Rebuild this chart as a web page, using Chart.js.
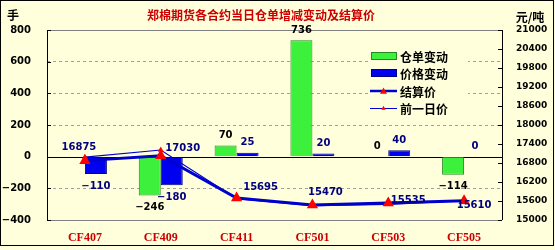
<!DOCTYPE html>
<html>
<head>
<meta charset="utf-8">
<script src="https://cdn.jsdelivr.net/npm/chart.js@4/dist/chart.umd.min.js"></script>
<style>
  html, body { margin: 0; padding: 0; background: #fff; }
  #wrap { width: 555px; height: 250px; position: relative; }
</style>
</head>
<body>
<div id="wrap"><canvas id="cwChart" width="555" height="250"></canvas></div>
<script>
// 合约
const contracts = ['CF407', 'CF409', 'CF411', 'CF501', 'CF503', 'CF505'];
// 仓单变动 (手)
const receiptChange = [null, -246, 70, 736, 0, -114];
// 价格变动
const priceChange = [-110, -180, 25, 20, 40, 0];
// 结算价 (元/吨)
const settlePrice = [16875, 17030, 15695, 15470, 15535, 15610];
// 前一日价
const prevPrice = [16985, 17210, 15670, 15450, 15495, 15610];
// 结算价标签的偏移
const settleLabelNudge = [[-6, -13], [22, -7], [24, -11], [13, -13], [20, -3], [10, 5]];

const BG = '#FFFFDC';
const numFont = 'bold 10px "DejaVu Sans"';
const cjkFont = 'bold 12px "Noto Sans CJK SC"';

const decorPlugin = {
    id: 'decor',
    beforeDraw(chart) {
        const ctx = chart.ctx;
        ctx.save();
        ctx.fillStyle = BG;
        ctx.fillRect(0, 0, chart.width, chart.height);
        ctx.strokeStyle = '#000';
        ctx.lineWidth = 1;
        ctx.strokeRect(0.5, 0.5, chart.width - 2, chart.height - 5);
        ctx.restore();
    },
    beforeDatasetsDraw(chart) {
        const ctx = chart.ctx;
        const a = chart.chartArea;
        const y = chart.scales.y;
        const y1 = chart.scales.y1;
        ctx.save();
        ctx.lineWidth = 1;
        // top / bottom frame
        ctx.strokeStyle = '#808080';
        ctx.beginPath();
        ctx.moveTo(a.left, Math.round(a.top) + 0.5);
        ctx.lineTo(a.right, Math.round(a.top) + 0.5);
        ctx.moveTo(a.left, Math.round(a.bottom) + 0.5);
        ctx.lineTo(a.right, Math.round(a.bottom) + 0.5);
        ctx.stroke();
        // axes
        ctx.strokeStyle = '#000';
        ctx.beginPath();
        ctx.moveTo(Math.round(a.left) + 0.5, a.top);
        ctx.lineTo(Math.round(a.left) + 0.5, a.bottom);
        ctx.moveTo(Math.round(a.right) + 0.5, a.top);
        ctx.lineTo(Math.round(a.right) + 0.5, a.bottom);
        const z = Math.round(y.getPixelForValue(0)) + 0.5;
        ctx.moveTo(a.left, z);
        ctx.lineTo(a.right, z);
        // tick marks (inside)
        y1.ticks.forEach(t => {
            const py = Math.round(y1.getPixelForValue(t.value)) + 0.5;
            ctx.moveTo(a.right - 4, py);
            ctx.lineTo(a.right, py);
        });
        y.ticks.forEach(t => {
            const py = Math.round(y.getPixelForValue(t.value)) + 0.5;
            ctx.moveTo(a.left, py);
            ctx.lineTo(a.left + 4, py);
        });
        ctx.stroke();
        ctx.restore();
    },
    afterDraw(chart) {
        const ctx = chart.ctx;
        ctx.save();
        ctx.textBaseline = 'middle';
        ctx.textAlign = 'center';

        // 标题
        ctx.font = cjkFont;
        ctx.fillStyle = '#CC0000';
        ctx.fillText('郑棉期货各合约当日仓单增减变动及结算价', 261, 15);
        ctx.fillStyle = '#000';
        ctx.fillText('手', 13, 15);
        ctx.fillText('元/吨', 530, 17);

        // 柱子标签
        ctx.font = numFont;
        [0, 1].forEach(di => {
            const meta = chart.getDatasetMeta(di);
            const vals = chart.data.datasets[di].data;
            ctx.fillStyle = di === 0 ? '#000' : '#000080';
            meta.data.forEach((el, i) => {
                const v = vals[i];
                if (v === null || v === undefined) return;
                const ty = v >= 0 ? el.y - 10 : el.y + 12;
                ctx.fillText(String(v).replace('-', '\u2212'), el.x, ty);
            });
        });

        // 结算价标签
        const sMeta = chart.getDatasetMeta(2);
        ctx.fillStyle = '#000080';
        sMeta.data.forEach((pt, i) => {
            const n = settleLabelNudge[i];
            ctx.fillText(String(settlePrice[i]), pt.x + n[0], pt.y + n[1]);
        });

        // 图例
        const lx = 368, ly = 44;
        ctx.fillStyle = BG;
        ctx.fillRect(lx, ly, 100, 72);
        const rows = [56, 73, 91, 108];
        ctx.textAlign = 'left';
        ctx.font = cjkFont;
        // 仓单变动
        ctx.fillStyle = '#3CF03C';
        ctx.strokeStyle = '#1E8C1E';
        ctx.fillRect(371, rows[0] - 3, 25, 6);
        ctx.strokeRect(371.5, rows[0] - 3.5, 25, 7);
        // 价格变动
        ctx.fillStyle = '#0000F0';
        ctx.strokeStyle = '#000080';
        ctx.fillRect(371, rows[1] - 3, 25, 6);
        ctx.strokeRect(371.5, rows[1] - 3.5, 25, 7);
        // 结算价
        ctx.strokeStyle = '#0000CC';
        ctx.lineWidth = 2.5;
        ctx.beginPath();
        ctx.moveTo(370, rows[2]);
        ctx.lineTo(397, rows[2]);
        ctx.stroke();
        drawTri(ctx, 383.5, rows[2], 3.5);
        // 前一日价
        ctx.lineWidth = 1;
        ctx.beginPath();
        ctx.moveTo(370, rows[3] + 0.5);
        ctx.lineTo(397, rows[3] + 0.5);
        ctx.stroke();
        drawTri(ctx, 383.5, rows[3], 2.2);

        ctx.fillStyle = '#000';
        ['仓单变动', '价格变动', '结算价', '前一日价'].forEach((t, i) => {
            ctx.fillText(t, 400, rows[i] + 1);
        });
        ctx.restore();
    }
};

function drawTri(ctx, x, y, r) {
    ctx.save();
    ctx.fillStyle = '#FF0000';
    ctx.beginPath();
    ctx.moveTo(x, y - r);
    ctx.lineTo(x + r, y + r * 0.8);
    ctx.lineTo(x - r, y + r * 0.8);
    ctx.closePath();
    ctx.fill();
    ctx.restore();
}

const chart = new Chart(document.getElementById('cwChart'), {
    type: 'bar',
    data: {
        labels: contracts,
        datasets: [
            {
                label: '仓单变动',
                data: receiptChange,
                yAxisID: 'y',
                backgroundColor: '#3CF03C',
                borderColor: '#1E8C1E',
                borderWidth: 1,
                categoryPercentage: 0.58,
                barPercentage: 1,
                order: 2
            },
            {
                label: '价格变动',
                data: priceChange,
                yAxisID: 'y',
                backgroundColor: '#0000F0',
                borderColor: '#000080',
                borderWidth: 1,
                categoryPercentage: 0.58,
                barPercentage: 1,
                order: 2
            },
            {
                type: 'line',
                label: '结算价',
                data: settlePrice,
                yAxisID: 'y1',
                borderColor: '#0000CC',
                borderWidth: 3,
                pointStyle: 'triangle',
                pointRadius: 3.5,
                pointBackgroundColor: '#FF0000',
                pointBorderColor: '#FF0000',
                tension: 0,
                order: 0
            },
            {
                type: 'line',
                label: '前一日价',
                data: prevPrice,
                yAxisID: 'y1',
                borderColor: '#0000CC',
                borderWidth: 1.2,
                pointStyle: 'triangle',
                pointRadius: 2.2,
                pointBackgroundColor: '#FF0000',
                pointBorderColor: '#FF0000',
                tension: 0,
                order: 1
            }
        ]
    },
    options: {
        responsive: false,
        animation: false,
        layout: { padding: { top: 30, left: 0, right: 0, bottom: 0 } },
        plugins: {
            legend: { display: false },
            tooltip: { enabled: false }
        },
        scales: {
            x: {
                offset: true,
                grid: { display: false },
                border: { display: false },
                ticks: {
                    color: '#CC0000',
                    font: { family: 'Liberation Serif', weight: 'bold', size: 12 },
                    padding: 3
                },
                afterFit: s => { s.height = 30; }
            },
            y: {
                position: 'left',
                min: -400,
                max: 800,
                ticks: {
                    stepSize: 200,
                    color: '#000',
                    font: { family: 'DejaVu Sans', weight: 'bold', size: 10 },
                    padding: 16,
                    callback: v => String(v).replace('-', '\u2212')
                },
                grid: {
                    drawTicks: false,
                    color: ctx => (ctx.tick && (ctx.tick.value === 0 || ctx.tick.value === 800 || ctx.tick.value === -400)) ? 'rgba(0,0,0,0)' : '#A0A0A0'
                },
                border: { display: false, dash: [3, 3] },
                afterFit: s => { s.width = 47; }
            },
            y1: {
                position: 'right',
                min: 15000,
                max: 21000,
                ticks: {
                    stepSize: 600,
                    color: '#000',
                    font: { family: 'DejaVu Sans', weight: 'bold', size: 9 },
                    padding: 14,
                    callback: v => String(v)
                },
                grid: { drawOnChartArea: false, drawTicks: false },
                border: { display: false },
                afterFit: s => { s.width = 53; }
            }
        }
    },
    plugins: [decorPlugin]
});
</script>
</body>
</html>
